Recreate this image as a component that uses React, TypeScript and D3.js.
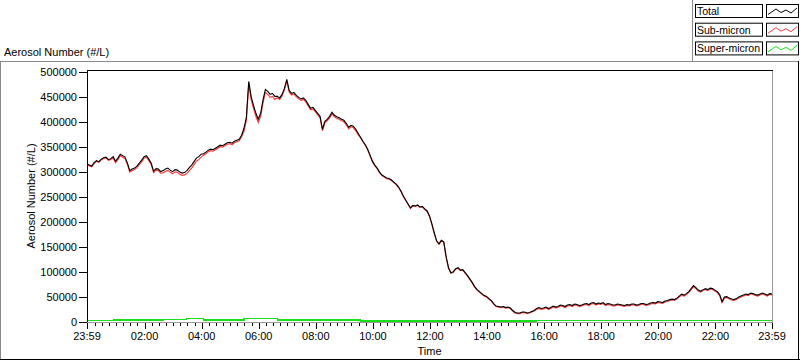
import React from 'react';
import * as d3 from 'd3';

// sample times: minutes after 23:59 (start of record), every 5 minutes
const timeMinutes = d3.range(0, 1441, 5);

// Total aerosol number, thousands of #/L (one row per hour, 12 samples each)
const totalK = [
  317,314,312,319,323,321,326,329,330,325,327,331,
  322,328,336,333,330,318,303,306,308,312,318,324,
  331,333,326,318,302,307,306,301,303,306,308,304,
  301,305,304,300,298,299,303,309,314,321,328,331,
  336,337,340,344,346,345,348,351,354,353,356,359,
  360,358,362,364,366,374,388,410,482,452,434,418,
  406,418,445,466,462,456,458,452,452,449,456,468,
  486,464,458,460,454,450,447,449,444,436,428,430,
  424,418,412,386,402,406,412,420,414,411,409,406,
  404,398,390,394,392,386,378,370,362,355,346,334,
  322,314,308,300,294,291,288,287,284,280,276,270,
  262,252,244,236,228,233,232,234,230,231,226,222,
  212,196,178,162,156,163,160,130,108,98,100,106,
  108,103,104,98,92,85,78,70,64,60,56,52,
  50,46,42,36,31,30,29,30,28,29,27,22,
  18,17,17,19,19,17,18,20,22,26,28,26,
  27,29,26,28,31,29,30,33,32,30,33,34,
  32,35,34,32,33,35,36,34,37,38,35,37,
  36,38,34,36,35,33,33,35,34,33,32,34,
  33,35,35,33,34,36,36,34,35,37,38,37,
  40,39,38,41,42,44,45,44,47,51,55,53,
  56,60,66,72,68,63,61,64,66,64,67,66,
  63,60,54,40,49,50,47,45,44,46,49,51,
  53,55,54,57,56,54,53,55,57,55,53,56,
  55
];

// Sub-micron, thousands of #/L
const subK = [
  315.5,312.5,310.5,317.5,321.5,319.5,324.5,327.5,328.5,323.5,325.5,328,
  319,325,333,330,327,315,300,303,305,309,315,321,
  328,330,323,315,299,304,303,298,298.5,301.5,303.5,299.5,
  296.5,300.5,299.5,295.5,293.5,294.5,297,303,308,315,322,325,
  330,334,337,341,343,342,345,348,351,350,353,356,
  357,355,359,361,363,371,382,404,476,446,428,412,
  400,412,439,460,456,450,452,446,449,446,453,465,
  483,461,455,457,451,447,444,446,441,433,425,427,
  421,415,409,383,399,403,409,417,411,408,406,403,
  401,395,387,391,389,383,375,369,361,354,345,333,
  321,313,307,299,293,290,287,286,283,279,275,269,
  261,251,243,235,227,232,231,233,229,230,225,221,
  211,195,177,161,155,162,159,129,107,97,99,105,
  107,102,103,97,91,84,77,69,63,59,55,51,
  49,45,41,35,30,29,28,29,27,28,26,21,
  17,16,16,18,18,16,17,19,21,24.2,26.2,24.2,
  25.2,27.2,24.2,26.2,29.2,27.2,28.2,31.2,30.2,28.2,31.2,32.2,
  30.2,33.2,32.2,30.2,31.2,33.2,34.2,32.2,35.2,36.2,33.2,35.2,
  34.2,36.2,32.2,34.2,33.2,31.2,31.2,33.2,32.2,31.2,30.2,32.2,
  31.2,33.2,33.2,31.2,32.2,34.2,34.2,32.2,33.2,35.2,36.2,35.2,
  38.2,37.2,36.2,39.2,40.2,42.2,43.2,42.2,45.2,49.2,53.2,51.2,
  54.2,58.2,64.2,70.2,66.2,61.2,59.2,62.2,64.2,62.2,65.2,64.2,
  61.2,58.2,52.2,38.2,47.2,48.2,45.2,43.2,42.2,44.2,47.2,49.2,
  51.2,53.2,52.2,55.2,54.2,52.2,51.2,53.2,55.2,53.2,51.2,54.2,
  53.2
];

// Super-micron (step changes), thousands of #/L
const superTimes = [0,55,160,210,245,330,400,575,945,1440];
const superK = [1.5,3,4.5,6,3,6,3,1,1.8,1.8];

const yTicks = [0,50000,100000,150000,200000,250000,300000,350000,400000,450000,500000];
const xTickMinutes = [0,121,241,361,481,601,721,841,961,1081,1201,1321,1440];
const xTickLabels = ['23:59','02:00','04:00','06:00','08:00','10:00','12:00','14:00','16:00','18:00','20:00','22:00','23:59'];

const legendNames = ['Total','Sub-micron','Super-micron'];
const COLORS = { total: '#000000', sub: '#ff3a3a', sup: '#18e018' };
const legendColors = [COLORS.total, COLORS.sub, COLORS.sup];

const FONT = '"Liberation Sans", Arial, sans-serif';

export default function App() {
  const W = 800, H = 361;
  const left = 87, right = 772, top = 70, bottom = 322;
  const x = d3.scaleLinear().domain([0, 1440]).range([left, right]);
  const y = d3.scaleLinear().domain([0, 505000]).range([321.5, top]);

  const lineTS = d3.line<number>()
    .x((_, i) => x(timeMinutes[i]))
    .y(d => y(d * 1000));
  const superLine = d3.line<number>()
    .x((_, i) => x(superTimes[i]))
    .y(d => y(d * 1000))
    .curve(d3.curveStepAfter);

  // minor ticks every 15 clock minutes (clock = 23:59 + t)
  const minor: number[] = [];
  for (let t = 1; t < 1440; t += 15) {
    if (xTickMinutes.some(m => Math.abs(m - t) < 3)) continue;
    minor.push(t);
  }

  const zig = [0, 8, 13, 18, 23, 29];
  const zigY = [10, 4.5, 8, 5.5, 8.5, 3.5];

  return (
    <svg width={W} height={H} style={{ position: 'absolute', left: 0, top: 0, background: '#fff' }}
      fontFamily={FONT}>
      {/* panel frame */}
      <line x1={0} x2={798} y1={61.5} y2={61.5} stroke="#8a8a8a" />
      <line x1={0.5} x2={0.5} y1={61} y2={360} stroke="#8a8a8a" />
      <line x1={0} x2={800} y1={359.5} y2={359.5} stroke="#000" />
      <line x1={798.5} x2={798.5} y1={61} y2={360} stroke="#000" />
      <line x1={692.5} x2={692.5} y1={0} y2={61} stroke="#8a8a8a" />

      {/* legend */}
      {legendNames.map((n, i) => {
        const ty = 4 + i * 18.7;
        return (
          <g key={n}>
            <rect x={695.5} y={ty + 0.5} width={67} height={13} fill="#fff" stroke="#000" />
            <text x={697} y={ty + 11} fontSize={10.5}>{n}</text>
            <rect x={766.5} y={ty + 0.5} width={32} height={13} fill="#fff" stroke="#000" />
            <polyline fill="none" stroke={legendColors[i]} strokeWidth={1}
              points={zig.map((zx, k) => `${768 + zx},${ty + zigY[k] + 0.5}`).join(' ')} />
          </g>
        );
      })}

      {/* top title */}
      <text x={4} y={56} fontSize={11}>Aerosol Number (#/L)</text>

      {/* plot frame */}
      <rect x={left} y={top} width={right - left} height={bottom - top} fill="#fff" />
      <line x1={right + 0.5} x2={right + 0.5} y1={top} y2={bottom} stroke="#9a9a9a" />
      <line x1={left} x2={right + 1} y1={bottom + 0.5} y2={bottom + 0.5} stroke="#9a9a9a" />

      {/* data */}
      <defs>
        <clipPath id="clip"><rect x={left} y={top} width={right - left} height={bottom - top} /></clipPath>
      </defs>
      <g clipPath="url(#clip)">
        <path d={superLine(superK) || ''} fill="none" stroke={COLORS.sup} strokeWidth={1.2} shapeRendering="crispEdges" />
        <path d={lineTS(subK) || ''} fill="none" stroke={COLORS.sub} strokeWidth={1.2} />
        <path d={lineTS(totalK) || ''} fill="none" stroke={COLORS.total} strokeWidth={1.1} />
      </g>

      <line x1={left} x2={right + 1} y1={top + 0.5} y2={top + 0.5} stroke="#000" />
      <line x1={left + 0.5} x2={left + 0.5} y1={top} y2={bottom} stroke="#000" />

      {/* y axis */}
      {yTicks.map(v => (
        <g key={v}>
          <line x1={79} x2={left} y1={Math.round(y(v)) + 0.5} y2={Math.round(y(v)) + 0.5} stroke="#000" />
          <text x={77} y={y(v) + 4} fontSize={11} textAnchor="end">{v}</text>
        </g>
      ))}
      <text transform={`translate(35,${(top + bottom) / 2}) rotate(-90)`} fontSize={11} textAnchor="middle">
        Aerosol Number (#/L)
      </text>

      {/* x axis */}
      {minor.map(t => (
        <line key={'m' + t} x1={Math.round(x(t)) + 0.5} x2={Math.round(x(t)) + 0.5} y1={323} y2={326} stroke="#000" />
      ))}
      {xTickMinutes.map((t, i) => (
        <g key={'M' + i}>
          <line x1={Math.round(x(t)) + 0.5} x2={Math.round(x(t)) + 0.5} y1={323} y2={329} stroke="#000" />
          <text x={x(t)} y={340} fontSize={11} textAnchor="middle">{xTickLabels[i]}</text>
        </g>
      ))}
      <text x={(left + right) / 2} y={355} fontSize={11} textAnchor="middle">Time</text>
    </svg>
  );
}
